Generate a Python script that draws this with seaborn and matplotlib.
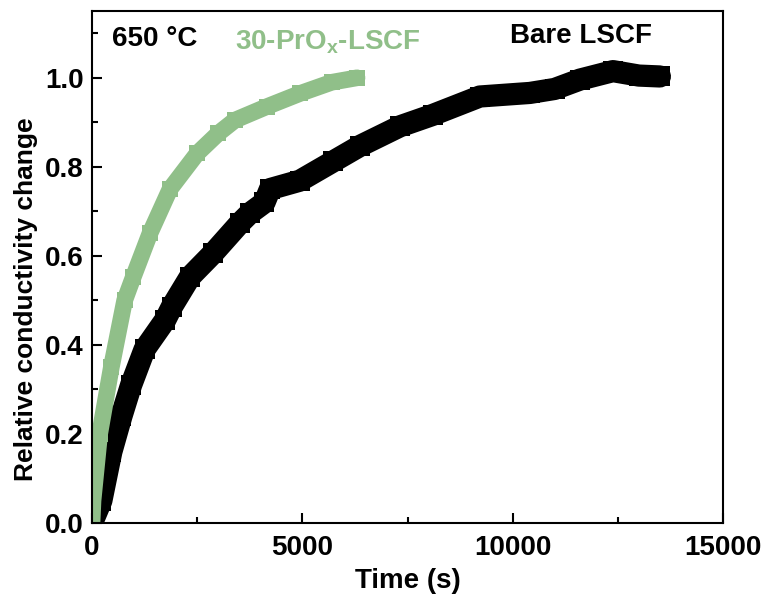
import matplotlib
matplotlib.use("Agg")
import matplotlib.pyplot as plt
import seaborn as sns
import pandas as pd
from matplotlib.ticker import MultipleLocator, FormatStrFormatter

# values
bare_time = [0, 222, 460, 700, 930, 1250, 1740, 1900, 2330, 2880, 3520, 3755, 4100,
             4230, 4944, 5730, 6370, 7320, 8110, 9220, 10410, 11000, 11600, 12385,
             13000, 13500]
bare_val = [0, 0.05, 0.16, 0.24, 0.31, 0.39, 0.456, 0.486, 0.553, 0.606, 0.674, 0.696,
            0.72, 0.75, 0.769, 0.812, 0.847, 0.891, 0.917, 0.958, 0.966, 0.975, 0.996,
            1.015, 1.005, 1.003]

prox_time = [0, 24, 182, 460, 776, 983, 1379, 1854, 2500, 3000, 3400, 4150, 4950,
             5700, 6300]
prox_val = [0, 0.05, 0.20, 0.35, 0.50, 0.553, 0.651, 0.75, 0.83, 0.875, 0.905, 0.935,
            0.965, 0.99, 1.0]

green = "#90bf89"

sns.set_style("ticks")
plt.rcParams["font.family"] = ["Liberation Sans", "DejaVu Sans"]
plt.rcParams["font.weight"] = "bold"
plt.rcParams["text.color"] = "black"
plt.rcParams["axes.labelcolor"] = "black"
plt.rcParams["xtick.color"] = "black"
plt.rcParams["ytick.color"] = "black"
plt.rcParams["mathtext.fontset"] = "custom"
plt.rcParams["mathtext.it"] = "Liberation Sans:bold"
plt.rcParams["mathtext.rm"] = "Liberation Sans:bold"
plt.rcParams["mathtext.bf"] = "Liberation Sans:bold"

bare = pd.DataFrame({"t": bare_time, "v": bare_val})
prox = pd.DataFrame({"t": prox_time, "v": prox_val})

fig = plt.figure(figsize=(7.68, 5.96), dpi=100)
ax = fig.add_axes([0.1198, 0.1225, 0.8216, 0.859])

sns.lineplot(data=bare, x="t", y="v", ax=ax, color="black", linewidth=16,
             marker="s", markersize=15, markeredgewidth=0)
sns.lineplot(data=prox, x="t", y="v", ax=ax, color=green, linewidth=12,
             marker="s", markersize=11, markeredgewidth=0)

ax.set_xlim(0, 15000)
ax.set_ylim(0, 1.15)
ax.xaxis.set_major_locator(MultipleLocator(5000))
ax.xaxis.set_minor_locator(MultipleLocator(2500))
ax.yaxis.set_major_locator(MultipleLocator(0.2))
ax.yaxis.set_minor_locator(MultipleLocator(0.1))
ax.yaxis.set_major_formatter(FormatStrFormatter("%.1f"))
ax.tick_params(which="major", direction="in", length=7, width=1.5, labelsize=20,
               colors="black")
ax.tick_params(axis="y", which="major", pad=6)
ax.tick_params(axis="x", which="major", pad=9)
ax.tick_params(which="minor", direction="in", length=4, width=1.5, colors="black")
for lab in ax.get_xticklabels() + ax.get_yticklabels():
    lab.set_fontweight("bold")
for s in ax.spines.values():
    s.set_linewidth(1.5)
    s.set_color("black")

ax.set_xlabel("Time (s)", fontsize=20, fontweight="bold", labelpad=5)
ax.set_ylabel("Relative conductivity change", fontsize=19, fontweight="bold")
ax.yaxis.set_label_coords(-0.0856, 0.4375)

ax.text(475, 1.088, "650 °C", fontsize=20, fontweight="bold", va="center")
ax.text(3400, 1.08, r"30-PrO$_x$-LSCF", fontsize=20, fontweight="bold",
        color=green, va="center")
ax.text(9935, 1.094, "Bare LSCF", fontsize=20, fontweight="bold", va="center")

fig.savefig("out.png", dpi=100)
